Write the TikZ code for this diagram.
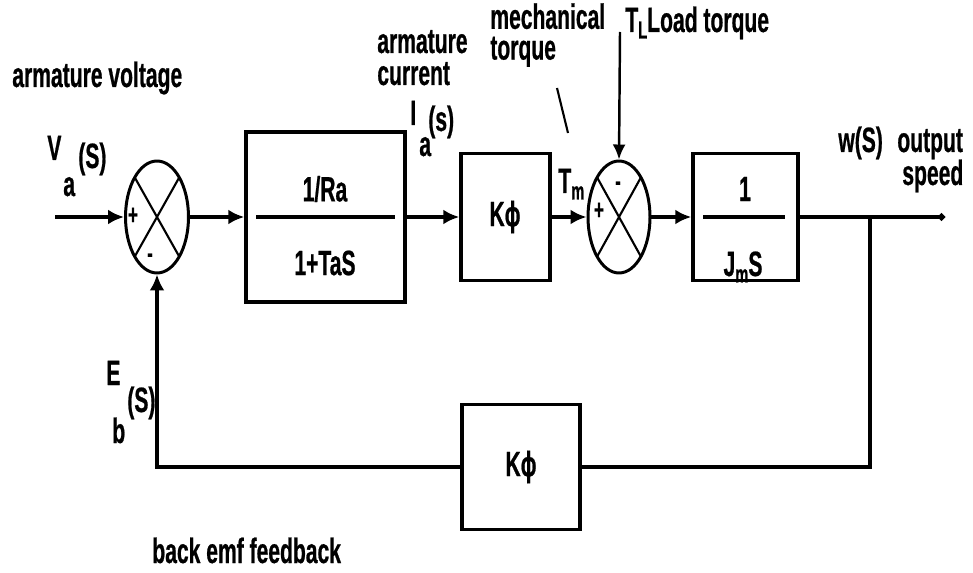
\documentclass[tikz,border=0pt]{standalone}
\usepackage{fontspec}
\setmainfont{Liberation Sans}[FakeStretch=0.6,BoldFeatures={FakeBold=0.6}]
\usetikzlibrary{arrows.meta,positioning,shapes.geometric,calc}
\newcommand{\lowsub}[1]{\raisebox{-0.35ex}{\fontsize{14}{14}\selectfont #1}}
\tikzset{
  blockbox/.style={rectangle,draw,line width=2pt,inner sep=0pt},
  sumnode/.style={ellipse,draw,line width=1.7pt,inner sep=0pt,minimum width=1.26cm,minimum height=2.24cm,
    path picture={\draw[line width=1.2pt] (path picture bounding box.north west) -- (path picture bounding box.south east)
      (path picture bounding box.north east) -- (path picture bounding box.south west);}},
  signal/.style={line width=2.3pt},
  arrow/.style={-{Latex[length=3.2mm,width=3mm]},line width=2.3pt},
  thinarrow/.style={-{Latex[length=3mm,width=2.6mm]},line width=1.4pt},
  lbl/.style={font=\fontsize{20}{22}\selectfont\bfseries,inner sep=0pt,anchor=base west},
  inlbl/.style={font=\fontsize{20}{22}\selectfont\bfseries,inner sep=0pt},
  sign/.style={font=\fontsize{16}{16}\selectfont\bfseries,inner sep=0pt}
}

\begin{document}
\begin{tikzpicture}[x=0.02cm,y=0.02cm]
    \useasboundingbox (0,0) rectangle (973,572);
    \coordinate (vin) at (55,355);
    \node[sumnode] (sumA) at (157,355) {};
    \node[blockbox,minimum width=3.18cm,minimum height=3.4cm] (elec) at (325.5,355) {};
    \node[blockbox,minimum width=1.78cm,minimum height=2.54cm] (kphiA) at (505.5,355) {};
    \node[sumnode,minimum width=1.24cm] (sumB) at (619,355) {};
    \node[blockbox,minimum width=2.1cm,minimum height=2.54cm] (mech) at (745.5,355) {};
    \coordinate (branch) at (870,355);
    \coordinate (vout) at (945,355);
    \node[blockbox,minimum width=2.36cm,minimum height=2.5cm] (kphiB) at (521,105) {};
    \coordinate (load) at (620,540);

    \draw[arrow] (vin) -- (sumA);
    \draw[arrow] (sumA) -- (elec);
    \draw[arrow] (elec) -- (kphiA);
    \draw[arrow] (kphiA) -- (sumB);
    \draw[arrow] (sumB) -- (mech);
    \draw[signal,-{Circle[length=4pt]}] (mech) -- (vout);
    \draw[signal,line width=1.8pt] (branch) |- (kphiB.east);
    \draw[arrow,line width=1.8pt] (kphiB.west) -| (sumA.south);
    \draw[thinarrow] (load) -- (sumB.north);

    \draw[signal] ($(elec.west)+(12,0)$) -- ($(elec.east)+(-12,0)$);
    \draw[signal] ($(mech.west)+(12,0)$) -- ($(mech.east)+(-15,0)$);
    \node[inlbl] (ra) at (325,383) {1/Ra};
    \node[inlbl] (tas) at (325,309) {1+TaS};
    \node[inlbl] (kA) at (505,355) {Kϕ};
    \node[inlbl] (one) at (745,383) {1};
    \node[inlbl,anchor=base] (jms) at (743,296) {J\lowsub{m}S};
    \node[inlbl] (kB) at (521,105) {Kϕ};

    \node[sign] (plusA) at (133,356) {+};
    \node[sign] (minusA) at (150,314) {-};
    \node[sign] (plusB) at (599,361) {+};
    \node[sign] (minusB) at (618,386) {-};

    \node[lbl] (avolt) at (12,485) {armature voltage};
    \node[lbl] (vV) at (47,412) {V};
    \node[lbl] (vsub) at (63,376) {a};
    \node[lbl] (vS) at (78,404) {(S)};
    \node[lbl] (acur) at (377,519) {armature};
    \node[lbl] (acur2) at (377,487) {current};
    \node[lbl] (iI) at (410,447) {I};
    \node[lbl] (isub) at (419,416) {a};
    \node[lbl] (iS) at (428,441) {(s)};
    \node[lbl,anchor=north west,align=left,font=\fontsize{20}{17.5}\selectfont\bfseries] (mtq) at (490,569) {mechanical\\torque};
    \coordinate (ptA) at (557,484);
    \coordinate (ptB) at (568,439);
    \draw[line width=1.2pt] (ptA) -- (ptB);
    \node[lbl] (ltq) at (625,540) {T\lowsub{L}Load torque};
    \node[lbl] (tm) at (558,379) {T\lowsub{m}};
    \node[lbl] (ws) at (838,420) {w(S)};
    \node[lbl] (outp) at (897,420) {output};
    \node[lbl] (spd) at (902,387) {speed};
    \node[lbl] (eE) at (106,187) {E};
    \node[lbl] (esub) at (112,129) {b};
    \node[lbl] (eS) at (127,160) {(S)};
    \node[lbl] (bemf) at (152,9) {back emf feedback};
  \end{tikzpicture}
\end{document}
